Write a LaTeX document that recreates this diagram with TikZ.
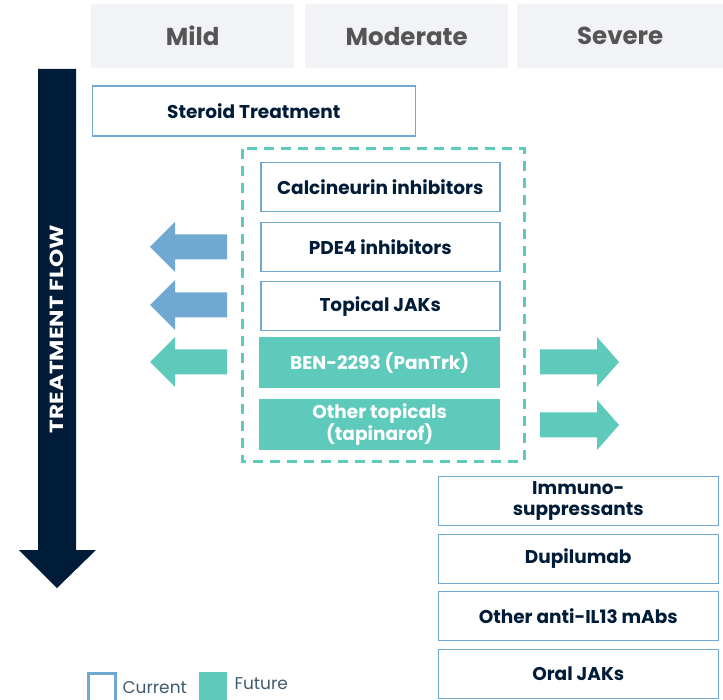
\documentclass[tikz,border=0pt]{standalone}
\usepackage{fontspec}
\setmainfont{Poppins}
\newfontfamily\widefont[FakeStretch=1.22]{Poppins}
\definecolor{navy}{HTML}{011C38}
\definecolor{teal}{HTML}{5ECABC}
\definecolor{cblue}{HTML}{6FA8D0}
\definecolor{hdrgray}{HTML}{F2F3F6}
\definecolor{hdrtext}{HTML}{555555}
\definecolor{legtext}{HTML}{3F5A6E}
\begin{document}
\begin{tikzpicture}[x=1pt,y=-1pt,
  hdr/.style={fill=hdrgray,draw=none,minimum width=203pt,minimum height=64pt,
    font=\fontsize{24.5}{27}\selectfont\bfseries,text=hdrtext,anchor=north west},
  cur/.style={draw=cblue,line width=1.5pt,fill=white,minimum width=239pt,minimum height=49pt,
    font=\fontsize{18.5}{21.5}\selectfont\bfseries,text=navy,align=center,anchor=north west,inner sep=0pt},
  fut/.style={fill=teal,draw=none,minimum width=241pt,minimum height=51pt,
    font=\fontsize{18.5}{22}\selectfont\bfseries,text=white,align=center,anchor=north west,inner sep=0pt},
  legend/.style={anchor=west,text=legtext,font=\fontsize{17}{19}\selectfont},
]
\useasboundingbox (0,0) rectangle (723,700);
% headers
\node[hdr] (mild) at (91,4) {Mild};
\node[hdr] (mod) at (305,4) {Moderate};
\node[hdr,minimum width=206pt] (sev) at (517,4) {Severe};
% big arrow
\fill[navy] (38,69) -- (76,69) -- (76,550) -- (96,550) -- (57,588) -- (19,550) -- (38,550) -- cycle;
\node[rotate=90,text=white,font=\widefont\fontsize{19}{20}\selectfont\bfseries] (flow) at (57,329) {TREATMENT FLOW};
% steroid
\node[cur,minimum width=323pt,minimum height=50pt] (ster) at (91.5,85.5) {Steroid Treatment};
% dashed box
\draw[teal,line width=3pt,dash pattern=on 10pt off 7pt] (242,149) rectangle (524,461);
\node[cur] (calc) at (260,162) {Calcineurin inhibitors};
\node[cur] (pde) at (260,222) {PDE4 inhibitors};
\node[cur] (tjak) at (260,281) {Topical JAKs};
\node[fut] (ben) at (259,337) {BEN-2293 (PanTrk)};
\node[fut] (oth) at (259,399) {Other topicals\\(tapinarof)};
% left arrows
\foreach \c/\col in {247/cblue,305/cblue,362/teal}{
  \fill[\col] (227,\c-12.5) -- (175,\c-12.5) -- (175,\c-25) -- (150,\c) -- (175,\c+25) -- (175,\c+12.5) -- (227,\c+12.5) -- cycle;
}
% right arrows
\foreach \c in {362,425}{
  \fill[teal] (540,\c-12.5) -- (597,\c-12.5) -- (597,\c-25) -- (619,\c) -- (597,\c+25) -- (597,\c+12.5) -- (540,\c+12.5) -- cycle;
}
% right column
\node[cur,minimum width=280pt] (imm) at (437.5,475.5) {Immuno-\\suppressants};
\node[cur,minimum width=280pt] (dup) at (437.5,533.5) {Dupilumab};
\node[cur,minimum width=280pt] (il13) at (437.5,590.5) {Other anti-IL13 mAbs};
\node[cur,minimum width=280pt] (ojak) at (437.5,648.5) {Oral JAKs};
% legend
\draw[cblue,line width=3pt] (88,673) rectangle (115,702);
\node[legend] (lcur) at (119,688) {Current};
\fill[teal] (199,672) rectangle (227,702);
\node[legend] (lfut) at (231,684) {Future};
\end{tikzpicture}
\end{document}
